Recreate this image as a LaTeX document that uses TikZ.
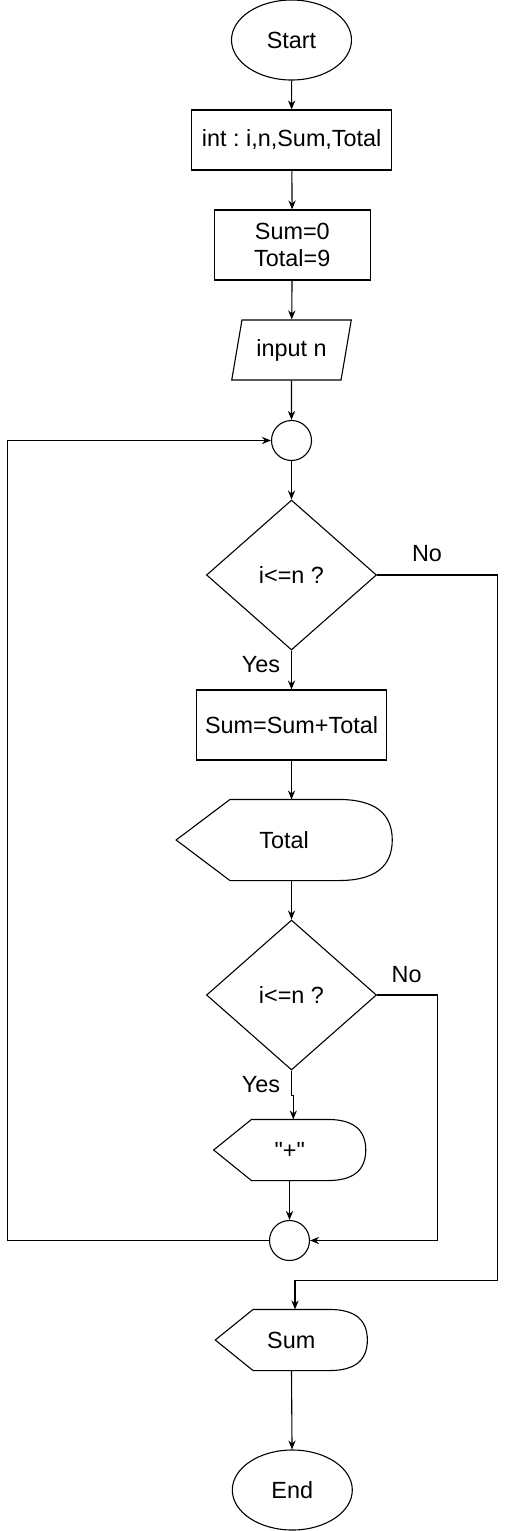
\documentclass[tikz,border=0pt]{standalone}
\usepackage{fontspec}
\setmainfont{Liberation Sans}[Ligatures=TeXOff]
\usetikzlibrary{shapes.geometric,arrows.meta,calc}
\frenchspacing
% outline of a display box round node #1, point depth #2
\newcommand{\dispout}[2]{%
\draw (#1.west) -- ([xshift=#2]#1.north west) -- ([xshift=-#2]#1.north east)
 .. controls ($([xshift=-#2]#1.north east)!2/3!(#1.north east)$) and ($(#1.east)!2/3!(#1.north east)$) .. (#1.east)
 .. controls ($(#1.east)!2/3!(#1.south east)$) and ($([xshift=-#2]#1.south east)!2/3!(#1.south east)$) .. ([xshift=-#2]#1.south east)
 -- ([xshift=#2]#1.south west) -- cycle;}
\begin{document}
\begin{tikzpicture}[x=0.5pt, y=-0.5pt, >={Stealth[length=4.5pt,width=3.6pt]}, line width=0.55pt,
  every node/.style={font=\fontsize{11.7}{13.8}\selectfont},
  terminal/.style={draw, ellipse, minimum width=60pt, minimum height=40pt, inner sep=0pt},
  procbox/.style={draw, rectangle, inner sep=0pt, align=center},
  inbox/.style={draw, trapezium, trapezium left angle=71.57, trapezium right angle=108.43,
    trapezium stretches=true, minimum width=60pt, minimum height=30pt, inner sep=0pt},
  outbox/.style={rectangle, inner sep=0pt},
  conn/.style={draw, circle, minimum size=20pt, inner sep=0pt},
  decide/.style={draw, diamond, minimum width=85pt, minimum height=75pt, inner sep=0pt}]
\useasboundingbox (0,0) rectangle (507,1531);

\node [terminal] (start) at (291.5,40) {Start};
\node [procbox, minimum width=100pt, minimum height=30pt] (decl) at (291.7,140) {int : i,n,Sum,Total};
\node [procbox, minimum width=78pt, minimum height=35pt] (init) at (292.3,245) {Sum=0\\Total=9};
\node [inbox] (inp) at (291.5,350) {input n};
\node [conn] (c1) at (291.5,440.5) {};
\node [decide] (d1) at (291.5,575) {i<=n ?};
\node [procbox, minimum width=95pt, minimum height=35pt] (upd) at (291.5,725) {Sum=Sum+Total};
\node [outbox, minimum width=107.5pt, minimum height=40pt] (tot) at (284.2,840) {Total};
\node [decide] (d2) at (291.5,995) {i<=n ?};
\node [outbox, minimum width=75.5pt, minimum height=30pt] (plus) at (289.7,1150) {"+"};
\node [conn] (c2) at (289.5,1240.5) {};
\node [outbox, minimum width=75.5pt, minimum height=30pt] (res) at (291.3,1340) {Sum};
\node [terminal] (stop) at (292.3,1490) {End};
\dispout{tot}{26.9pt}
\dispout{plus}{18.9pt}
\dispout{res}{18.9pt}

\node (no1) at (427,554) {No};
\node (yes1) at (261,665) {Yes};
\node (no2) at (406.7,975) {No};
\node (yes2) at (261,1085) {Yes};

\coordinate (back) at (7.5,1240.5);
\coordinate (r2) at (437.5,995);
\coordinate (r1) at (497.5,1280.5);
\draw [->] (start) -- (decl);
\draw [->] (decl) -- (init);
\draw [->] (init) -- (inp);
\draw [->] (inp) -- (c1);
\draw [->] (c1) -- (d1);
\draw [->] (d1) -- (upd);
\draw [->] (upd) -- (upd |- tot.north);
\draw [->] (d2 |- tot.south) -- (d2);
\draw [->] (d2.south) -- ++(0,25) -| ([xshift=1.8pt]plus.north);
\draw [->] (plus.south -| c2) -- (c2);
\draw [->] (c2.west) -- (back) |- (c1.west);
\draw [->] (d2.east) -- (r2) |- (c2.east);
\draw [->] (d1.east) -| (r1) -| ([xshift=1.85pt]res.north);
\draw [->] (res) -- (stop);
\end{tikzpicture}
\end{document}
